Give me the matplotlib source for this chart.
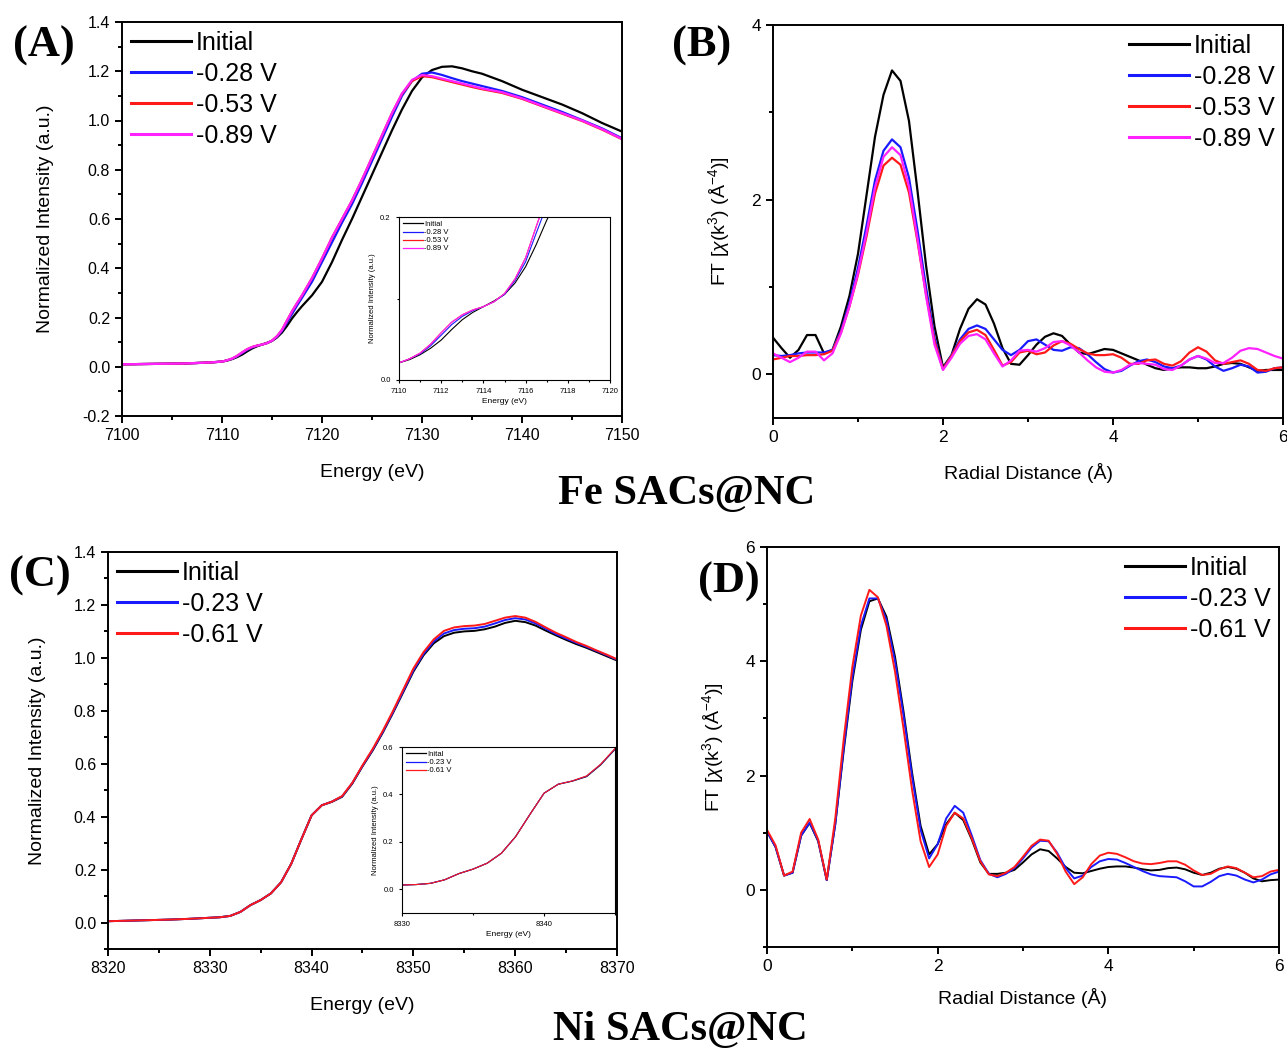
import matplotlib
matplotlib.use('Agg')
import matplotlib.pyplot as plt
from matplotlib.ticker import MultipleLocator

plt.rcParams['font.family'] = ['Liberation Sans', 'DejaVu Sans']
plt.rcParams['mathtext.fontset'] = 'custom'
plt.rcParams['mathtext.rm'] = 'Liberation Sans'
plt.rcParams['mathtext.it'] = 'Liberation Sans:italic'

# ---------------- Fe K-edge XANES (A) ----------------
fe_energy = [7100, 7102, 7104, 7106, 7108, 7109,
             7110, 7110.5, 7111, 7111.5, 7112, 7112.5, 7113, 7113.5, 7114, 7114.5,
             7115, 7115.5, 7116, 7116.5, 7117, 7117.5,
             7118, 7119, 7120, 7121, 7122, 7123, 7124, 7125, 7126, 7127, 7128, 7129,
             7130, 7131, 7132, 7133, 7134, 7135, 7136,
             7138, 7140, 7142, 7144, 7146, 7148, 7150]
fe_initial = [0.010, 0.011, 0.012, 0.013, 0.016, 0.018,
              0.021, 0.025, 0.031, 0.039, 0.049, 0.062, 0.074, 0.083, 0.090, 0.097,
              0.105, 0.119, 0.139, 0.166, 0.196, 0.222,
              0.246, 0.290, 0.345, 0.425, 0.515, 0.600, 0.690, 0.780, 0.870, 0.960, 1.045, 1.120,
              1.175, 1.205, 1.218, 1.220, 1.212, 1.200, 1.190,
              1.160, 1.125, 1.095, 1.065, 1.030, 0.990, 0.955]
fe_028 = [0.010, 0.011, 0.012, 0.013, 0.016, 0.018,
          0.021, 0.026, 0.032, 0.042, 0.055, 0.068, 0.078, 0.085, 0.090, 0.096,
          0.105, 0.122, 0.145, 0.180, 0.214, 0.248,
          0.280, 0.345, 0.425, 0.505, 0.585, 0.660, 0.745, 0.835, 0.925, 1.015, 1.100, 1.160,
          1.190, 1.195, 1.185, 1.172, 1.160, 1.150, 1.140,
          1.120, 1.095, 1.065, 1.035, 1.002, 0.968, 0.928]
fe_053 = [0.010, 0.011, 0.012, 0.013, 0.016, 0.018,
          0.021, 0.026, 0.033, 0.044, 0.058, 0.071, 0.080, 0.086, 0.090, 0.096,
          0.106, 0.124, 0.150, 0.188, 0.225, 0.258,
          0.290, 0.360, 0.440, 0.525, 0.600, 0.675, 0.760, 0.850, 0.940, 1.030, 1.108, 1.160,
          1.180, 1.176, 1.166, 1.156, 1.146, 1.136, 1.127,
          1.112, 1.088, 1.058, 1.028, 0.998, 0.963, 0.924]
fe_089 = [0.010, 0.011, 0.012, 0.013, 0.016, 0.018,
          0.021, 0.026, 0.033, 0.044, 0.058, 0.071, 0.080, 0.086, 0.090, 0.096,
          0.106, 0.124, 0.150, 0.188, 0.225, 0.258,
          0.290, 0.360, 0.440, 0.525, 0.600, 0.675, 0.760, 0.850, 0.940, 1.030, 1.110, 1.165,
          1.185, 1.180, 1.170, 1.160, 1.150, 1.140, 1.130,
          1.115, 1.090, 1.060, 1.030, 1.000, 0.965, 0.925]

# ---------------- Fe FT-EXAFS (B) ----------------
r_grid = [round(0.1 * i, 1) for i in range(61)]
fe_ft_initial = [0.42, 0.30, 0.19, 0.28, 0.45, 0.45, 0.24, 0.28, 0.55, 0.90,
                 1.38, 2.05, 2.72, 3.20, 3.48, 3.36, 2.90, 2.10, 1.25, 0.55,
                 0.08, 0.22, 0.52, 0.75, 0.86, 0.80, 0.58, 0.30, 0.12, 0.11,
                 0.22, 0.34, 0.43, 0.47, 0.44, 0.34, 0.25, 0.23, 0.26, 0.29,
                 0.28, 0.24, 0.20, 0.16, 0.11, 0.07, 0.05, 0.07, 0.08, 0.08,
                 0.07, 0.07, 0.09, 0.12, 0.13, 0.12, 0.08, 0.04, 0.05, 0.05, 0.05]
fe_ft_028 = [0.22, 0.21, 0.22, 0.24, 0.25, 0.25, 0.25, 0.28, 0.50, 0.82,
             1.22, 1.70, 2.22, 2.56, 2.69, 2.60, 2.25, 1.65, 1.00, 0.42,
             0.06, 0.22, 0.40, 0.52, 0.56, 0.52, 0.40, 0.28, 0.22, 0.28,
             0.38, 0.40, 0.34, 0.28, 0.27, 0.31, 0.30, 0.23, 0.14, 0.06,
             0.02, 0.04, 0.10, 0.15, 0.17, 0.14, 0.09, 0.07, 0.10, 0.17,
             0.21, 0.17, 0.09, 0.04, 0.07, 0.11, 0.09, 0.02, 0.03, 0.07, 0.08]
fe_ft_053 = [0.17, 0.19, 0.21, 0.21, 0.22, 0.22, 0.23, 0.27, 0.48, 0.78,
             1.14, 1.58, 2.07, 2.39, 2.48, 2.40, 2.08, 1.52, 0.92, 0.38,
             0.06, 0.21, 0.38, 0.48, 0.51, 0.45, 0.28, 0.10, 0.14, 0.25,
             0.27, 0.23, 0.25, 0.33, 0.38, 0.35, 0.29, 0.24, 0.22, 0.22,
             0.23, 0.19, 0.12, 0.12, 0.16, 0.17, 0.12, 0.10, 0.15, 0.25,
             0.31, 0.26, 0.16, 0.12, 0.14, 0.16, 0.12, 0.05, 0.04, 0.07, 0.08]
fe_ft_089 = [0.24, 0.19, 0.14, 0.19, 0.26, 0.26, 0.16, 0.24, 0.47, 0.78,
             1.16, 1.62, 2.14, 2.49, 2.60, 2.51, 2.15, 1.55, 0.90, 0.34,
             0.05, 0.19, 0.35, 0.44, 0.46, 0.40, 0.24, 0.09, 0.16, 0.27,
             0.28, 0.26, 0.30, 0.37, 0.38, 0.33, 0.25, 0.16, 0.08, 0.03,
             0.02, 0.05, 0.11, 0.13, 0.12, 0.11, 0.06, 0.05, 0.10, 0.17,
             0.21, 0.18, 0.13, 0.13, 0.19, 0.27, 0.30, 0.29, 0.25, 0.21, 0.18]

# ---------------- Ni K-edge XANES (C) ----------------
ni_energy = [8320, 8322, 8324, 8326, 8328, 8330, 8331, 8332, 8333, 8334, 8335, 8336,
             8337, 8338, 8339, 8340, 8341, 8342, 8343, 8344, 8345, 8346, 8347, 8348,
             8349, 8350, 8351, 8352, 8353, 8354, 8355, 8356, 8357, 8358, 8359, 8360,
             8361, 8362, 8363, 8364, 8365, 8366, 8367, 8368, 8369, 8370]
ni_initial = [0.005, 0.007, 0.009, 0.011, 0.014, 0.018, 0.020, 0.025, 0.040, 0.066, 0.085, 0.110,
              0.152, 0.222, 0.315, 0.405, 0.443, 0.456, 0.475, 0.525, 0.590, 0.650, 0.718, 0.792,
              0.870, 0.948, 1.010, 1.055, 1.082, 1.095, 1.100, 1.102, 1.108, 1.118, 1.132, 1.140,
              1.135, 1.122, 1.103, 1.085, 1.068, 1.052, 1.038, 1.022, 1.006, 0.990]
ni_023 = [0.005, 0.007, 0.009, 0.011, 0.014, 0.018, 0.020, 0.025, 0.040, 0.066, 0.085, 0.110,
          0.152, 0.222, 0.315, 0.405, 0.443, 0.457, 0.477, 0.527, 0.592, 0.653, 0.721, 0.795,
          0.874, 0.953, 1.015, 1.062, 1.092, 1.105, 1.110, 1.112, 1.118, 1.130, 1.143, 1.150,
          1.145, 1.130, 1.110, 1.090, 1.073, 1.057, 1.042, 1.026, 1.010, 0.993]
ni_061 = [0.005, 0.007, 0.009, 0.011, 0.014, 0.018, 0.020, 0.025, 0.040, 0.066, 0.085, 0.110,
          0.152, 0.222, 0.315, 0.405, 0.443, 0.457, 0.478, 0.528, 0.594, 0.656, 0.725, 0.800,
          0.880, 0.960, 1.022, 1.070, 1.102, 1.115, 1.120, 1.122, 1.128, 1.140, 1.152, 1.158,
          1.152, 1.136, 1.115, 1.095, 1.078, 1.060, 1.045, 1.028, 1.012, 0.995]

# ---------------- Ni FT-EXAFS (D) ----------------
ni_ft_initial = [1.02, 0.75, 0.25, 0.30, 0.95, 1.17, 0.85, 0.17, 1.15, 2.45,
                 3.65, 4.55, 5.05, 5.10, 4.78, 4.08, 3.12, 2.05, 1.12, 0.62,
                 0.80, 1.15, 1.35, 1.22, 0.88, 0.48, 0.28, 0.28, 0.30, 0.35,
                 0.48, 0.62, 0.71, 0.68, 0.55, 0.40, 0.30, 0.29, 0.33, 0.37,
                 0.40, 0.41, 0.41, 0.39, 0.36, 0.34, 0.35, 0.38, 0.39, 0.36,
                 0.30, 0.26, 0.30, 0.37, 0.40, 0.37, 0.30, 0.20, 0.15, 0.17, 0.18]
ni_ft_023 = [1.02, 0.75, 0.25, 0.30, 0.95, 1.18, 0.86, 0.17, 1.15, 2.50,
             3.72, 4.62, 5.10, 5.10, 4.72, 4.00, 3.05, 1.98, 1.05, 0.55,
             0.80, 1.25, 1.47, 1.35, 0.95, 0.52, 0.28, 0.22, 0.28, 0.38,
             0.55, 0.74, 0.86, 0.85, 0.65, 0.38, 0.20, 0.25, 0.40, 0.50,
             0.54, 0.53, 0.47, 0.40, 0.33, 0.27, 0.24, 0.23, 0.22, 0.15,
             0.06, 0.06, 0.14, 0.24, 0.28, 0.25, 0.18, 0.13, 0.18, 0.27, 0.32]
ni_ft_061 = [1.05, 0.78, 0.25, 0.32, 1.00, 1.24, 0.88, 0.18, 1.25, 2.65,
             3.90, 4.80, 5.25, 5.12, 4.62, 3.82, 2.82, 1.75, 0.85, 0.40,
             0.62, 1.12, 1.35, 1.25, 0.90, 0.50, 0.27, 0.24, 0.30, 0.40,
             0.58, 0.77, 0.88, 0.86, 0.63, 0.32, 0.10, 0.22, 0.45, 0.60,
             0.65, 0.63, 0.57, 0.50, 0.46, 0.45, 0.47, 0.50, 0.50, 0.44,
             0.34, 0.26, 0.28, 0.36, 0.41, 0.38, 0.30, 0.22, 0.24, 0.32, 0.35]

fe_labels = ['Initial', '-0.28 V', '-0.53 V', '-0.89 V']
fe_colors = ['black', '#1a1aff', '#ff1a1a', '#ff22ff']
ni_labels = ['Initial', '-0.23 V', '-0.61 V']
ni_colors = ['black', '#1a1aff', '#ff1a1a']

W, H = 1287, 1053
fig = plt.figure(figsize=(W / 100, H / 100), dpi=100)


def box(l, t, r, b):
    return [l / W, 1 - b / H, (r - l) / W, (b - t) / H]


def style(ax, size=11.5, width=1.4, ticklen=5):
    for s in ax.spines.values():
        s.set_linewidth(width)
    ax.tick_params(which='major', direction='out', length=ticklen, width=width, labelsize=size)
    ax.tick_params(which='minor', direction='out', length=ticklen * 0.6, width=width)


def big_legend(ax, loc):
    leg = ax.legend(loc=loc, frameon=False, fontsize=18, handlelength=2.4,
                    handletextpad=0.2, labelspacing=0.28, borderaxespad=0.15,
                    borderpad=0.2)
    for line in leg.get_lines():
        line.set_linewidth(2.2)


def small_legend(ax):
    leg = ax.legend(loc='upper left', frameon=False, fontsize=5.5, handlelength=2.6,
                    handletextpad=0.2, labelspacing=0.1, borderaxespad=0.1)
    for line in leg.get_lines():
        line.set_linewidth(0.9)


def curves(ax, x, series, labels, colors, lw):
    for ys, lab, c in zip(series, labels, colors):
        ax.plot(x, ys, color=c, lw=lw, label=lab, solid_joinstyle='round')


# ---- (A) ----
axA = fig.add_axes(box(122, 22, 622, 416))
curves(axA, fe_energy, [fe_initial, fe_028, fe_053, fe_089], fe_labels, fe_colors, 1.6)
axA.set_xlim(7100, 7150)
axA.set_ylim(-0.2, 1.4)
axA.xaxis.set_major_locator(MultipleLocator(10))
axA.xaxis.set_minor_locator(MultipleLocator(5))
axA.yaxis.set_major_locator(MultipleLocator(0.2))
axA.yaxis.set_minor_locator(MultipleLocator(0.1))
axA.yaxis.set_major_formatter(plt.FormatStrFormatter('%.1f'))
style(axA)
axA.set_xlabel('Energy (eV)', fontsize=14, labelpad=15)
axA.set_ylabel('Normalized Intensity (a.u.)', fontsize=14, labelpad=21)
big_legend(axA, 'upper left')

insA = fig.add_axes(box(399, 217, 610, 380))
curves(insA, fe_energy, [fe_initial, fe_028, fe_053, fe_089], fe_labels, fe_colors, 0.8)
insA.set_xlim(7110, 7120)
insA.set_ylim(0, 0.2)
insA.set_xticks([7110, 7112, 7114, 7116, 7118, 7120])
insA.xaxis.set_minor_locator(MultipleLocator(1))
insA.set_yticks([0.0, 0.2])
insA.yaxis.set_minor_locator(MultipleLocator(0.1))
insA.yaxis.set_major_formatter(plt.FormatStrFormatter('%.1f'))
style(insA, size=5.5, width=0.8, ticklen=2.5)
insA.set_xlabel('Energy (eV)', fontsize=6, labelpad=2)
insA.set_ylabel('Normalized Intensity (a.u.)', fontsize=5.5, labelpad=3)
small_legend(insA)

# ---- (B) ----
axB = fig.add_axes(box(773, 25, 1283, 418))
curves(axB, r_grid, [fe_ft_initial, fe_ft_028, fe_ft_053, fe_ft_089], fe_labels, fe_colors, 1.6)
axB.set_xlim(0, 6)
axB.set_ylim(-0.5, 4)
axB.xaxis.set_major_locator(MultipleLocator(2))
axB.xaxis.set_minor_locator(MultipleLocator(1))
axB.yaxis.set_major_locator(MultipleLocator(2))
axB.yaxis.set_minor_locator(MultipleLocator(1))
style(axB, size=12.5)
axB.set_xlabel('Radial Distance (Å)', fontsize=14, labelpad=13)
axB.set_ylabel(r'FT [$\chi$(k$^3$) (Å$^{-4}$)]', fontsize=14, labelpad=14)
big_legend(axB, 'upper right')

# ---- (C) ----
axC = fig.add_axes(box(108, 552, 617, 949))
curves(axC, ni_energy, [ni_initial, ni_023, ni_061], ni_labels, ni_colors, 1.4)
axC.set_xlim(8320, 8370)
axC.set_ylim(-0.1, 1.4)
axC.xaxis.set_major_locator(MultipleLocator(10))
axC.xaxis.set_minor_locator(MultipleLocator(5))
axC.yaxis.set_major_locator(MultipleLocator(0.2))
axC.yaxis.set_minor_locator(MultipleLocator(0.1))
axC.yaxis.set_major_formatter(plt.FormatStrFormatter('%.1f'))
style(axC)
axC.set_xlabel('Energy (eV)', fontsize=14, labelpad=15)
axC.set_ylabel('Normalized Intensity (a.u.)', fontsize=14, labelpad=20)
big_legend(axC, 'upper left')

insC = fig.add_axes(box(402, 747, 615, 913))
curves(insC, ni_energy, [ni_initial, ni_023, ni_061], ['Inital', '-0.23 V', '-0.61 V'], ni_colors, 0.8)
insC.set_xlim(8330, 8345)
insC.set_ylim(-0.1, 0.6)
insC.set_xticks([8330, 8340])
insC.xaxis.set_minor_locator(MultipleLocator(5))
insC.set_yticks([0.0, 0.2, 0.4, 0.6])
insC.yaxis.set_major_formatter(plt.FormatStrFormatter('%.1f'))
style(insC, size=5.5, width=0.8, ticklen=2.5)
insC.set_xlabel('Energy (eV)', fontsize=6, labelpad=2)
insC.set_ylabel('Normalized Intensity (a.u.)', fontsize=5.5, labelpad=3)
small_legend(insC)

# ---- (D) ----
axD = fig.add_axes(box(767, 547, 1279, 947))
curves(axD, r_grid, [ni_ft_initial, ni_ft_023, ni_ft_061], ni_labels, ni_colors, 1.4)
axD.set_xlim(0, 6)
axD.set_ylim(-1, 6)
axD.xaxis.set_major_locator(MultipleLocator(2))
axD.xaxis.set_minor_locator(MultipleLocator(1))
axD.yaxis.set_major_locator(MultipleLocator(2))
axD.yaxis.set_minor_locator(MultipleLocator(1))
style(axD, size=12.5)
axD.set_xlabel('Radial Distance (Å)', fontsize=14, labelpad=10)
axD.set_ylabel(r'FT [$\chi$(k$^3$) (Å$^{-4}$)]', fontsize=14, labelpad=14)
big_legend(axD, 'upper right')

# panel letters and material titles
serif = ['Liberation Serif', 'DejaVu Serif']
for txt, x, y in [('(A)', 44, 46), ('(B)', 702, 46), ('(C)', 40, 576), ('(D)', 729, 582)]:
    fig.text(x / W, 1 - y / H, txt, fontsize=32, fontweight='bold', family=serif,
             ha='center', va='center')
fig.text(687 / W, 1 - 494 / H, 'Fe SACs@NC', fontsize=30.5, fontweight='bold',
         family=serif, ha='center', va='center')
fig.text(680 / W, 1 - 1030 / H, 'Ni SACs@NC', fontsize=30.5, fontweight='bold',
         family=serif, ha='center', va='center')

fig.savefig('out.png', dpi=100)
